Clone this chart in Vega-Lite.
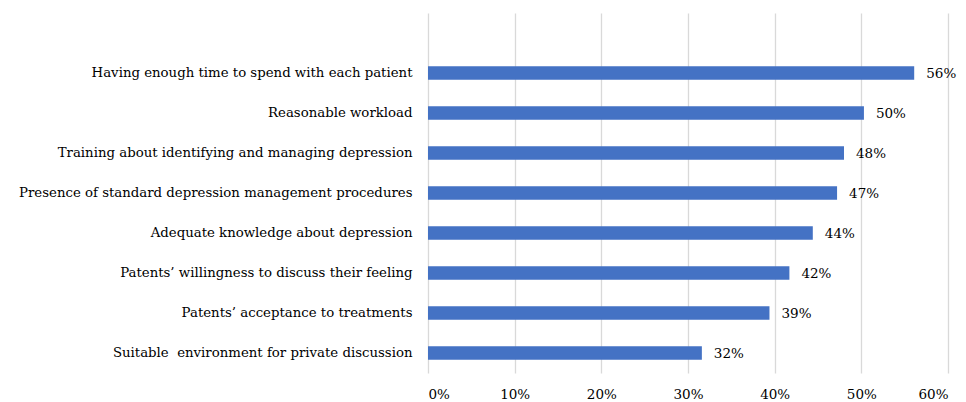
{
  "$schema": "https://vega.github.io/schema/vega-lite/v6.json",
  "width": 520,
  "height": 360,
  "autosize": {"type": "none"},
  "padding": {"left": 428, "top": 13, "right": 18, "bottom": 29},
  "background": "white",
  "config": {
    "view": {"stroke": null},
    "font": "DejaVu Serif"
  },
  "data": {
    "values": [
      {"factor": "Having enough time to spend with each patient", "value": 0.561},
      {"factor": "Reasonable workload", "value": 0.503},
      {"factor": "Training about identifying and managing depression", "value": 0.480},
      {"factor": "Presence of standard depression management procedures", "value": 0.472},
      {"factor": "Adequate knowledge about depression", "value": 0.444},
      {"factor": "Patents’ willingness to discuss their feeling", "value": 0.417},
      {"factor": "Patents’ acceptance to treatments", "value": 0.394},
      {"factor": "Suitable\u00a0 environment for private discussion", "value": 0.316}
    ]
  },
  "encoding": {
    "y": {
      "field": "factor",
      "type": "nominal",
      "sort": null,
      "scale": {
        "domain": [" ",
          "Having enough time to spend with each patient",
          "Reasonable workload",
          "Training about identifying and managing depression",
          "Presence of standard depression management procedures",
          "Adequate knowledge about depression",
          "Patents’ willingness to discuss their feeling",
          "Patents’ acceptance to treatments",
          "Suitable\u00a0 environment for private discussion"],
        "paddingInner": 0.667,
        "paddingOuter": 0.333
      },
      "axis": {
        "title": null,
        "domain": false,
        "ticks": false,
        "labelPadding": 16,
        "labelFont": "DejaVu Serif",
        "labelFontSize": 13.3,
        "labelColor": "#000000",
        "labelLimit": 500
      }
    },
    "x": {
      "field": "value",
      "type": "quantitative",
      "scale": {"domain": [0, 0.6], "nice": false},
      "axis": {
        "title": null,
        "values": [0, 0.1, 0.2, 0.3, 0.4, 0.5, 0.6],
        "format": ".0%",
        "domain": false,
        "ticks": false,
        "grid": true,
        "gridColor": "#d9d9d9",
        "gridWidth": 1.3,
        "labelPadding": 14,
        "labelFont": "DejaVu Serif",
        "labelFontSize": 13.5,
        "labelColor": "#000000"
      }
    }
  },
  "layer": [
    {"mark": {"type": "bar", "color": "#4472C4"}},
    {
      "mark": {"type": "text", "align": "left", "baseline": "middle", "dx": 12, "dy": 1, "font": "DejaVu Serif", "fontSize": 13.5, "color": "#000000"},
      "encoding": {"text": {"field": "value", "type": "quantitative", "format": ".0%"}}
    }
  ]
}
